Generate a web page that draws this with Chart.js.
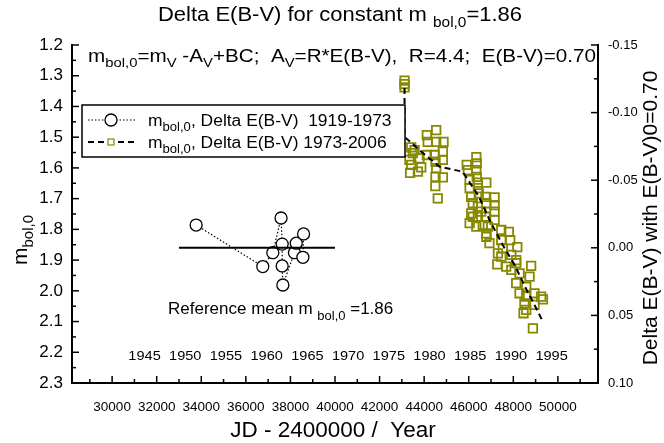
<!DOCTYPE html>
<html>
<head>
  <title>Delta E(B-V) for constant m bol,0</title>
  <style>
    body { margin: 0; background: #fff; }
    #wrap { width: 664px; height: 443px; position: relative; }
  </style>
</head>
<body>
<div id="wrap"><canvas id="chart"></canvas></div>
<script src="https://cdn.jsdelivr.net/npm/chart.js"></script>
<script>
// m_bol,0 1919-1973 (open circles, dotted line)
const oldJD  = [33770, 36760, 37210, 37580, 37630, 37630, 37660, 38180, 38260, 38560, 38590];
const oldMag = [1.786, 1.921, 1.876, 1.763, 1.848, 1.919, 1.981, 1.876, 1.845, 1.891, 1.815];

// m_bol,0 1973-2006 (olive squares)
const newJD = [
  43120, 43120, 43120,
  43420, 43490, 43340, 43790, 43870, 43420, 43370, 43720, 43570,
  44540, 44120, 44160, 44120, 44540, 44870, 44470, 44840, 44840, 44510, 44540, 44510, 44840, 44500, 44610,
  45910, 45960, 46040, 46040, 46110, 46180, 46110, 46180, 46040,
  46340, 46360, 46340, 46360, 46410, 46790, 46410, 46450, 46750, 46790, 46410, 46560, 46410, 46750, 46630, 46340, 46790,
  47160, 47160, 47160, 47160, 46860, 46790, 46930, 47460, 47800, 47460, 47860, 47530, 48180, 47310, 47910, 48130,
  47460, 48130, 47280, 47680, 48800, 47910, 48280, 48730, 48130, 48580, 48280, 48950, 49250, 48580, 49330, 48950,
  48500, 48580, 48460, 48880
];
const newMag = [
  1.316, 1.327, 1.338,
  1.533, 1.552, 1.574, 1.569, 1.598, 1.590, 1.616, 1.612, 1.542,
  1.477, 1.493, 1.515, 1.558, 1.515, 1.515, 1.558, 1.547, 1.574, 1.580, 1.601, 1.629, 1.631, 1.659, 1.699,
  1.590, 1.607, 1.639, 1.666, 1.694, 1.715, 1.748, 1.759, 1.780,
  1.565, 1.585, 1.607, 1.629, 1.648, 1.648, 1.666, 1.683, 1.694, 1.715, 1.726, 1.742, 1.759, 1.759, 1.786, 1.791, 1.813,
  1.696, 1.721, 1.742, 1.769, 1.791, 1.824, 1.845, 1.802, 1.808, 1.835, 1.835, 1.862, 1.858, 1.878, 1.883, 1.900,
  1.889, 1.910, 1.914, 1.921, 1.919, 1.932, 1.943, 1.954, 1.975, 1.987, 2.008, 2.008, 2.019, 2.019, 2.028, 2.046,
  2.041, 2.062, 2.073, 2.122
];

// dashed trend through the 1973-2006 points
const trendJD  = [43120, 43120, 43870, 44690, 45720, 46440, 46930, 47520, 48060, 48600, 48950, 49270];
const trendMag = [1.340, 1.499, 1.547, 1.596, 1.612, 1.691, 1.769, 1.850, 1.916, 1.997, 2.046, 2.092];

// reference mean
const meanJD  = [33000, 40000];
const meanMag = [1.86, 1.86];

// axes
const xTicks  = [30000, 32000, 34000, 36000, 38000, 40000, 42000, 44000, 46000, 48000, 50000];
const yTicks  = [1.2, 1.3, 1.4, 1.5, 1.6, 1.7, 1.8, 1.9, 2.0, 2.1, 2.2, 2.3];
const y2Ticks = [-0.15, -0.10, -0.05, 0.00, 0.05, 0.10];
const yearLabels = [1945, 1950, 1955, 1960, 1965, 1970, 1975, 1980, 1985, 1990, 1995];

const FONT = '"Liberation Sans", Arial, Helvetica, sans-serif';
const OLIVE = '#888800';

function pts(xs, ys) { return xs.map((x, i) => ({ x: x, y: ys[i] })); }
function yearToJD(yr) { return 51544.5 + (yr - 2000) * 365.25; }

// text made of runs [text, size, dy], optionally stretched horizontally by s
function rich(ctx, parts, x, y, align, s) {
  s = s || 1;
  let w = 0;
  parts.forEach(p => { ctx.font = p[1] + 'px ' + FONT; w += ctx.measureText(p[0]).width; });
  const W = w * s;
  const x0 = align === 'center' ? x - W / 2 : (align === 'right' ? x - W : x);
  ctx.save();
  ctx.translate(x0, y);
  ctx.scale(s, 1);
  ctx.textAlign = 'left';
  ctx.textBaseline = 'alphabetic';
  let cx = 0;
  parts.forEach(p => {
    ctx.font = p[1] + 'px ' + FONT;
    ctx.fillText(p[0], cx, p[2] || 0);
    cx += ctx.measureText(p[0]).width;
  });
  ctx.restore();
}

function seg(ctx, x1, y1, x2, y2) {
  ctx.beginPath(); ctx.moveTo(x1, y1); ctx.lineTo(x2, y2); ctx.stroke();
}

const decor = {
  id: 'decor',
  afterDraw(chart) {
    const ctx = chart.ctx, a = chart.chartArea;
    const sx = chart.scales.x, sy = chart.scales.y, sy2 = chart.scales.y2;
    ctx.save();
    ctx.fillStyle = '#000';
    ctx.strokeStyle = '#000';
    ctx.lineWidth = 1.5;
    ctx.setLineDash([]);

    // inward tick marks
    for (let v = 29000; v <= 51000; v += 1000) {
      const p = sx.getPixelForValue(v);
      seg(ctx, p, a.bottom, p, a.bottom - (v % 2000 === 0 ? 7 : 4));
    }
    yTicks.forEach((v, i) => {
      const p = sy.getPixelForValue(v);
      seg(ctx, a.left, p, a.left + 7, p);
      if (i < yTicks.length - 1) {
        const q = sy.getPixelForValue((v + yTicks[i + 1]) / 2);
        seg(ctx, a.left, q, a.left + 4, q);
      }
    });
    y2Ticks.forEach((v, i) => {
      const p = sy2.getPixelForValue(v);
      seg(ctx, a.right, p, a.right - 7, p);
      if (i < y2Ticks.length - 1) {
        const q = sy2.getPixelForValue((v + y2Ticks[i + 1]) / 2);
        seg(ctx, a.right, q, a.right - 4, q);
      }
    });

    // year labels inside the plot
    const yy = sy.getPixelForValue(2.21) + 5;
    yearLabels.forEach(yr => rich(ctx, [[String(yr), 13]], sx.getPixelForValue(yearToJD(yr)), yy, 'center', 1.12));

    // title
    rich(ctx, [['Delta E(B-V) for constant m ', 20], ['bol,0', 14, 6], ['=1.86', 20]], 340, 21, 'center', 1.1);

    // formula line
    rich(ctx, [['m', 18.8], ['bol,0', 13.5, 5], ['=m', 18.8], ['V', 13.5, 5], [' -A', 18.8], ['V', 13.5, 5],
               ['+BC;  A', 18.8], ['V', 13.5, 5], ['=R*E(B-V),  R=4.4;  E(B-V)=0.70', 18.8]], a.left + 16, 62, 'left', 1.1);

    // reference mean text
    rich(ctx, [['Reference mean m ', 17], ['bol,0', 13, 6], [' =1.86', 17]], 168, 314, 'left');

    // axis titles
    rich(ctx, [['JD - 2400000 /  Year', 22.5]], 333, 437, 'center');
    ctx.save();
    ctx.translate(27, 240);
    ctx.rotate(-Math.PI / 2);
    rich(ctx, [['m', 21], ['bol,0', 15, 6]], 0, 0, 'center');
    ctx.restore();
    ctx.save();
    ctx.translate(657, 218);
    ctx.rotate(-Math.PI / 2);
    rich(ctx, [['Delta E(B-V) with E(B-V)0=0.70', 21]], 0, 0, 'center');
    ctx.restore();

    // legend
    ctx.lineWidth = 1.5;
    ctx.fillStyle = '#fff';
    ctx.fillRect(82, 105, 323, 52);
    ctx.strokeRect(82, 105, 323, 52);
    ctx.fillStyle = '#000';
    ctx.lineWidth = 1.2;
    ctx.setLineDash([1.5, 2]);
    seg(ctx, 88, 120, 137, 120);
    ctx.setLineDash([]);
    ctx.beginPath(); ctx.arc(111, 120, 6, 0, Math.PI * 2);
    ctx.fillStyle = '#fff'; ctx.fill(); ctx.lineWidth = 1.3; ctx.stroke();
    ctx.lineWidth = 2;
    ctx.setLineDash([6, 4]);
    seg(ctx, 88, 142, 137, 142);
    ctx.setLineDash([]);
    ctx.fillRect(108, 139, 6, 6);
    ctx.strokeStyle = OLIVE; ctx.lineWidth = 1.2;
    ctx.strokeRect(108, 139, 6, 6);
    ctx.fillStyle = '#000';
    rich(ctx, [['m', 16], ['bol,0', 12, 5], [', Delta E(B-V)  1919-1973', 16]], 148, 126, 'left', 1.09);
    rich(ctx, [['m', 16], ['bol,0', 12, 5], [', Delta E(B-V) 1973-2006', 16]], 148, 148, 'left', 1.09);
    ctx.restore();
  }
};

new Chart(document.getElementById('chart'), {
  type: 'scatter',
  data: {
    datasets: [
      {
        data: pts(meanJD, meanMag), showLine: true, borderColor: '#000', borderWidth: 2,
        pointRadius: 0
      },
      {
        data: pts(trendJD, trendMag), showLine: true, borderColor: '#000', borderWidth: 2,
        borderDash: [6, 4], pointRadius: 0
      },
      {
        data: pts(oldJD, oldMag), showLine: true, borderColor: '#000', borderWidth: 1.2,
        borderDash: [1.5, 2], pointRadius: 6, pointBackgroundColor: '#fff',
        pointBorderColor: '#000', pointBorderWidth: 1.3
      },
      {
        data: pts(newJD, newMag), showLine: false, pointStyle: 'rect', pointRadius: 6,
        pointBackgroundColor: 'rgba(0,0,0,0)', pointBorderColor: OLIVE, pointBorderWidth: 1.8
      }
    ]
  },
  options: {
    responsive: true,
    maintainAspectRatio: false,
    animation: false,
    layout: { padding: { top: 45, left: 0, right: 0, bottom: 0 } },
    plugins: { legend: { display: false }, tooltip: { enabled: false } },
    scales: {
      x: {
        type: 'linear', position: 'bottom', min: 28200, max: 51800,
        afterBuildTicks: s => { s.ticks = xTicks.map(v => ({ value: v })); },
        afterFit: s => { s.height = 60; },
        grid: { display: false, drawTicks: false },
        border: { display: true, color: '#000', width: 2 },
        ticks: { padding: 16, color: '#000', font: { family: FONT, size: 13.5 }, maxRotation: 0,
                 callback: v => String(v) }
      },
      y: {
        type: 'linear', position: 'left', reverse: true, min: 1.2, max: 2.3,
        afterBuildTicks: s => { s.ticks = yTicks.map(v => ({ value: v })); },
        afterFit: s => { s.width = 72; },
        grid: { display: false, drawTicks: false },
        border: { display: true, color: '#000', width: 2 },
        ticks: { padding: 9, color: '#000', font: { family: FONT, size: 17 },
                 callback: v => v.toFixed(1) }
      },
      y2: {
        type: 'linear', position: 'right', reverse: true, min: -0.15, max: 0.10,
        afterBuildTicks: s => { s.ticks = y2Ticks.map(v => ({ value: v })); },
        afterFit: s => { s.width = 66; },
        grid: { display: false, drawTicks: false },
        border: { display: true, color: '#000', width: 2 },
        ticks: { padding: 10, color: '#000', font: { family: FONT, size: 13 },
                 callback: v => v.toFixed(2) }
      }
    }
  },
  plugins: [decor]
});
</script>
</body>
</html>
